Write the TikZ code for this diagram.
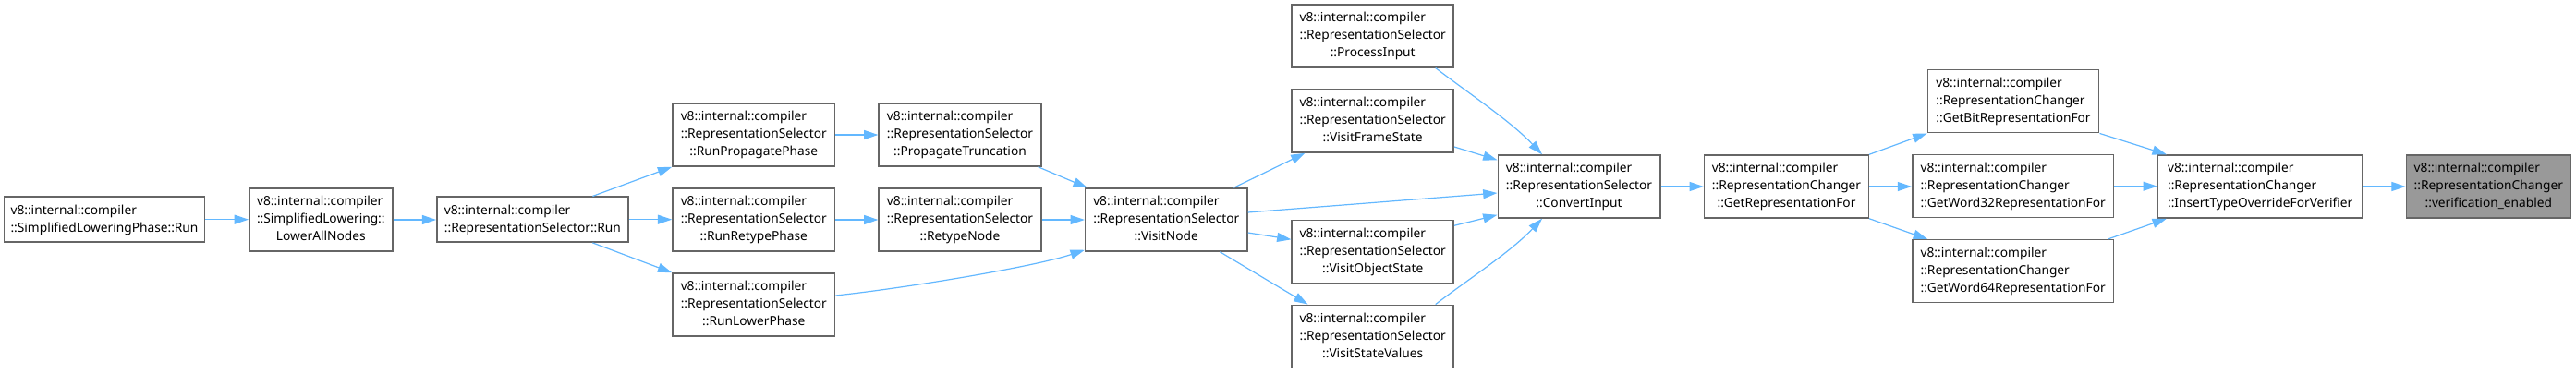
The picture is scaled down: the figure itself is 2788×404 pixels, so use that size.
\documentclass[tikz,border=0pt]{standalone}
\usepackage{fontspec}
\setmainfont{Noto Sans}
\usetikzlibrary{arrows.meta,calc}
\definecolor{edgeblue}{HTML}{63B8FF}
\definecolor{boxgray}{HTML}{666666}
\definecolor{hlgray}{HTML}{999999}
\newcommand\lblthree[3]{\begin{tabular}{@{}l@{}}#1\\#2\\\multicolumn{1}{@{}c@{}}{#3}\end{tabular}}
\newcommand\lbltwo[2]{\begin{tabular}{@{}l@{}}#1\\\multicolumn{1}{@{}c@{}}{#2}\end{tabular}}
\tikzset{
  box/.style={draw=boxgray, line width=1.1pt, fill=white, rectangle, inner sep=0pt,
    font=\fontsize{10.3}{14.25}\selectfont, text=black},
  sz/.style 2 args={minimum width={#1*0.75pt}, minimum height={#2*0.75pt}},
  hl/.style={fill=hlgray},
  edge/.style={draw=edgeblue, line width=0.9pt, -{Triangle[length=11.5pt,width=7.5pt]}}
}
\begin{document}
\begin{tikzpicture}[x=0.75pt,y=-0.75pt]
\fill[white] (0,0) rectangle (2788,404);
\useasboundingbox (0,0) rectangle (2788,404);

\node[box, sz={217}{49}] (phase) at (113,237.7) {\lbltwo{v8::internal::compiler}{::SimplifiedLoweringPhase::Run}};
\node[box, sz={155}{68}] (lan) at (347.3,238) {\lblthree{v8::internal::compiler}{::SimplifiedLowering::}{LowerAllNodes}};
\node[box, sz={207}{49}] (rsrun) at (576.4,237.7) {\lbltwo{v8::internal::compiler}{::RepresentationSelector::Run}};
\node[box, sz={175.6}{68}] (rpp) at (815.8,146) {\lblthree{v8::internal::compiler}{::RepresentationSelector}{::RunPropagatePhase}};
\node[box, sz={175.6}{68}] (pt) at (1039,146) {\lblthree{v8::internal::compiler}{::RepresentationSelector}{::PropagateTruncation}};
\node[box, sz={175.6}{68}] (rrp) at (815.8,238) {\lblthree{v8::internal::compiler}{::RepresentationSelector}{::RunRetypePhase}};
\node[box, sz={175.6}{68}] (rn) at (1039,238) {\lblthree{v8::internal::compiler}{::RepresentationSelector}{::RetypeNode}};
\node[box, sz={175.6}{68}] (rlp) at (815.8,330) {\lblthree{v8::internal::compiler}{::RepresentationSelector}{::RunLowerPhase}};
\node[box, sz={175.4}{68}] (vn) at (1262.3,238) {\lblthree{v8::internal::compiler}{::RepresentationSelector}{::VisitNode}};
\node[box, sz={175}{68}] (pi) at (1485.7,38.8) {\lblthree{v8::internal::compiler}{::RepresentationSelector}{::ProcessInput}};
\node[box, sz={175}{68}] (vfs) at (1485.7,131) {\lblthree{v8::internal::compiler}{::RepresentationSelector}{::VisitFrameState}};
\node[box, sz={175}{68}] (vos) at (1485.7,272.3) {\lblthree{v8::internal::compiler}{::RepresentationSelector}{::VisitObjectState}};
\node[box, sz={175}{68}] (vsv) at (1485.7,364.3) {\lblthree{v8::internal::compiler}{::RepresentationSelector}{::VisitStateValues}};
\node[box, sz={175.5}{68}] (ci) at (1709,202) {\lblthree{v8::internal::compiler}{::RepresentationSelector}{::ConvertInput}};
\node[box, sz={177.7}{68}] (grf) at (1933.5,202) {\lblthree{v8::internal::compiler}{::RepresentationChanger}{::GetRepresentationFor}};
\node[box, sz={185.4}{68}] (gb) at (2179,109.7) {\lblthree{v8::internal::compiler}{::RepresentationChanger}{::GetBitRepresentationFor}};
\node[box, sz={217.8}{68}] (gw32) at (2178.7,201.7) {\lblthree{v8::internal::compiler}{::RepresentationChanger}{::GetWord32RepresentationFor}};
\node[box, sz={217.8}{68}] (gw64) at (2178.7,293.7) {\lblthree{v8::internal::compiler}{::RepresentationChanger}{::GetWord64RepresentationFor}};
\node[box, sz={221.2}{68}] (it) at (2446.2,202) {\lblthree{v8::internal::compiler}{::RepresentationChanger}{::InsertTypeOverrideForVerifier}};
\node[box, hl, sz={177.8}{68}] (ve) at (2693.3,202) {\lblthree{v8::internal::compiler}{::RepresentationChanger}{::verification\_enabled}};

\draw[edge] (phase.east) -- (phase.east -| lan.west);
\draw[edge] (lan.east) -- (lan.east -| rsrun.west);
\draw[edge] ($(rsrun.north)+(65,0)$) -- (rpp.south west);
\draw[edge] (rsrun.east) -- (rsrun.east -| rrp.west);
\draw[edge] ($(rsrun.south)+(65,0)$) -- (rlp.north west);
\draw[edge] (rpp.east) -- (pt.west);
\draw[edge] (rrp.east) -- (rn.west);
\draw[edge] ($(pt.south east)+(-4,0)$) -- ($(vn.north west)+(3,0)$);
\draw[edge] (rn.east) -- (vn.west);
\draw[edge] ($(rlp.east)+(0,-10)$) .. controls +(76,-8) and +(-54,18) .. ($(vn.south west)+(0,-2)$);
\draw[edge] ($(vn.north)+(73,0)$) -- ($(vfs.south west)+(15,0)$);
\draw[edge] ($(vn.east)+(0,-8)$) -- ($(ci.west)+(0,7)$);
\draw[edge] ($(vn.east)+(0,14)$) -- ($(vos.west)+(0,-13)$);
\draw[edge] ($(vn.south)+(58,0)$) -- ($(vsv.north west)+(18,0)$);
\draw[edge] ($(pi.south)+(68,0)$) .. controls +(35,27) and +(-35,-37) .. ($(ci.north)+(-40,0)$);
\draw[edge] ($(vfs.east)+(0,28)$) -- ($(ci.north west)+(0,6)$);
\draw[edge] ($(vos.east)+(0,-28)$) -- ($(ci.south west)+(0,-4)$);
\draw[edge] ($(vsv.north)+(68,0)$) .. controls +(35,-27) and +(-35,37) .. ($(ci.south)+(-40,0)$);
\draw[edge] (ci.east) -- (grf.west);
\draw[edge] (grf.north east) -- (gb.south west);
\draw[edge] (grf.east) -- (grf.east -| gw32.west);
\draw[edge] (grf.south east) -- ($(gw64.north west)+(17,0)$);
\draw[edge] (gb.south east) -- ($(it.north west)+(10,0)$);
\draw[edge] (gw32.east) -- (gw32.east -| it.west);
\draw[edge] ($(gw64.north east)+(-7,0)$) -- ($(it.south west)+(10,0)$);
\draw[edge] (it.east) -- (ve.west);
\end{tikzpicture}
\end{document}
